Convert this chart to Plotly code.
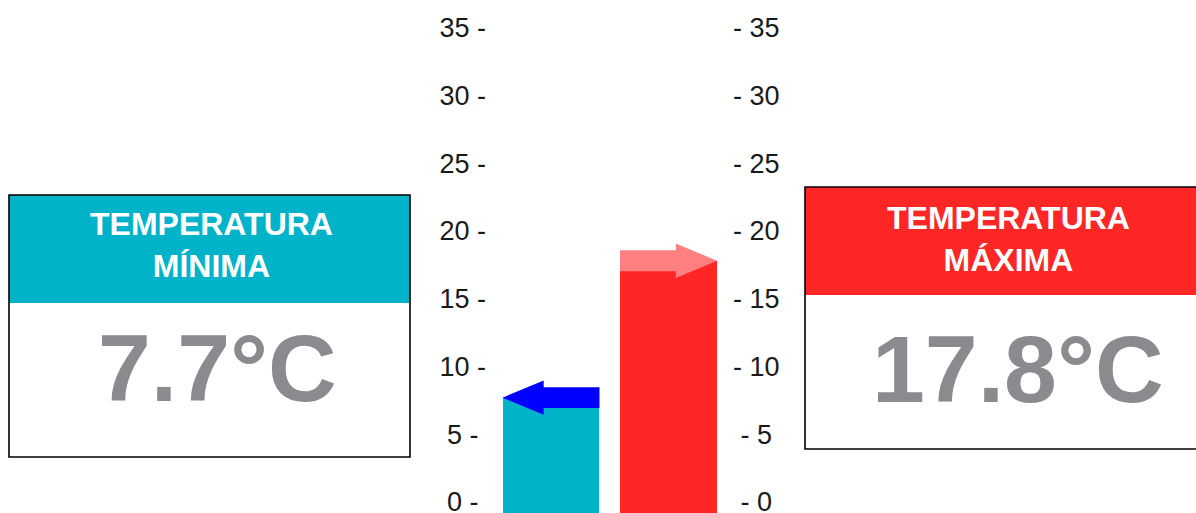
import numpy as np
import plotly.graph_objects as go

# Daily temperature summary
categories = ["Mínima", "Máxima"]
temps = [7.7, 17.8]
bar_colors = ["#00b3c9", "#ff2626"]
arrow_colors = ["#0000ff", "#ff8080"]
headers = ["TEMPERATURA<br>MÍNIMA", "TEMPERATURA<br>MÁXIMA"]
value_labels = [f"{t:.1f}°C" for t in temps]

tick_vals = list(range(0, 36, 5))
left_ticks = [f"{v} -" + ("\u00a0" if v < 10 else "") for v in tick_vals]
right_ticks = [("\u00a0" if v < 10 else "") + f"- {v}" for v in tick_vals]

W, H = 1196, 513
FONT = "Liberation Sans, Arial, sans-serif"
y_lo, y_hi = -0.81, 37.03
bar_w = 0.825

xpos = np.arange(len(categories))

fig = go.Figure()
fig.add_trace(go.Bar(
    x=xpos, y=[t - y_lo for t in temps], base=[y_lo] * len(temps),
    width=bar_w, marker=dict(color=bar_colors, line=dict(width=0)),
    hoverinfo="skip", showlegend=False,
))
# right-hand scale shares the same range
fig.add_trace(go.Scatter(
    x=xpos, y=temps, yaxis="y2", mode="markers",
    marker=dict(opacity=0), hoverinfo="skip", showlegend=False,
))

# block arrows marking each temperature level
head_len, head_half, shaft_half = 0.35, 1.27, 0.77
shapes = []
for i, (t, col) in enumerate(zip(temps, arrow_colors)):
    left, right = xpos[i] - bar_w / 2, xpos[i] + bar_w / 2
    if i == 0:  # pointing left
        tip, back = left, left + head_len
        pts = [(tip, t), (back, t + head_half), (back, t + shaft_half),
               (right, t + shaft_half), (right, t - shaft_half),
               (back, t - shaft_half), (back, t - head_half)]
    else:  # pointing right
        tip, back = right, right - head_len
        pts = [(tip, t), (back, t + head_half), (back, t + shaft_half),
               (left, t + shaft_half), (left, t - shaft_half),
               (back, t - shaft_half), (back, t - head_half)]
    path = "M " + " L ".join(f"{x:.4f},{y:.4f}" for x, y in pts) + " Z"
    shapes.append(dict(type="path", path=path, xref="x", yref="y",
                       fillcolor=col, line=dict(width=0), layer="above"))


def px(x):
    return x / W


def py(y):
    return 1 - y / H


# info boxes: (x0, x1, y_top, y_header_bottom, y_bottom)
boxes = [(9, 410, 195, 303, 457), (805, 1200, 187, 295, 449)]
header_centers = [(211, 245), (1008, 239)]
value_centers = [(217, 368), (1018, 369)]

annotations = []
for i, (x0, x1, yt, yh, yb) in enumerate(boxes):
    shapes.append(dict(type="rect", xref="paper", yref="paper",
                       x0=px(x0), x1=px(x1), y0=py(yh), y1=py(yt),
                       fillcolor=bar_colors[i], line=dict(width=0), layer="below"))
    shapes.append(dict(type="rect", xref="paper", yref="paper",
                       x0=px(x0), x1=px(x1), y0=py(yb), y1=py(yt),
                       fillcolor="rgba(0,0,0,0)", line=dict(color="#000", width=1.6)))
    hx, hy = header_centers[i]
    annotations.append(dict(text=f"<b>{headers[i]}</b>", xref="paper", yref="paper",
                            x=px(hx), y=py(hy), xanchor="center", yanchor="middle",
                            showarrow=False, font=dict(family=FONT, size=32, color="#fff")))
    vx, vy = value_centers[i]
    annotations.append(dict(text=f"<b>{value_labels[i]}</b>", xref="paper", yref="paper",
                            x=px(vx), y=py(vy), xanchor="center", yanchor="middle",
                            showarrow=False, font=dict(family=FONT, size=95, color="#8b8b8f")))

dom0, dom1 = 487, 732
scale = 117.5
x_min = -(551 - dom0) / scale
x_max = x_min + (dom1 - dom0) / scale

tick_font = dict(family=FONT, size=27, color="#1a1a1a")

fig.update_layout(
    width=W, height=H,
    margin=dict(l=0, r=0, t=0, b=0),
    paper_bgcolor="#fff", plot_bgcolor="rgba(0,0,0,0)",
    bargap=0,
    xaxis=dict(domain=[px(dom0), px(dom1)], range=[x_min, x_max],
               showticklabels=False, showgrid=False, zeroline=False,
               showline=False, ticks="", automargin=False),
    yaxis=dict(range=[y_lo, y_hi], tickvals=tick_vals, ticktext=left_ticks,
               showgrid=False, zeroline=False, showline=False, ticks="",
               automargin=False, ticklabeloverflow="allow", tickfont=tick_font),
    yaxis2=dict(range=[y_lo, y_hi], tickvals=tick_vals, ticktext=right_ticks,
                overlaying="y", side="right", anchor="x",
                showgrid=False, zeroline=False, showline=False, ticks="",
                automargin=False, ticklabeloverflow="allow", tickfont=tick_font),
    shapes=shapes,
    annotations=annotations,
)

fig.write_html("out.html")
